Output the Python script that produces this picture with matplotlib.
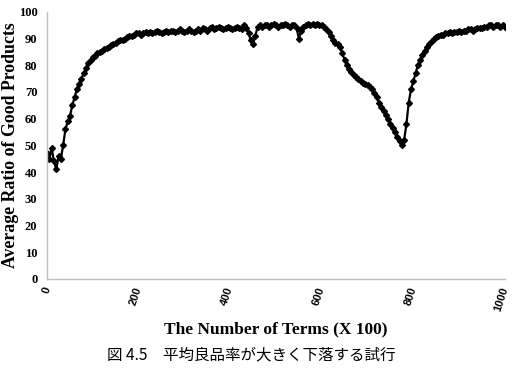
import numpy as np
import matplotlib
matplotlib.use('Agg')
from matplotlib import pyplot as plt

# Data (every 5 terms x100)
terms = list(range(0, 1001, 5))
ratio = [
    47, 45, 49, 44, 41, 46, 45, 50, 56, 59,
    61, 65, 68, 71, 73, 75, 77, 79, 81, 82,
    83, 83.5, 84.5, 85, 85.5, 86, 86.5, 87, 87.5, 88,
    88.5, 89, 89.5, 89.5, 90, 90.5, 91, 91, 91.5, 92,
    92, 91.5, 92, 92.5, 92, 92.5, 92, 92.5, 93, 92.5,
    92, 92.5, 93, 92.5, 93, 93, 92.5, 93, 93.5, 93,
    92.5, 93, 93.5, 93, 92.5, 93, 93.5, 93, 94, 93.5,
    93, 94, 94.5, 93.5, 94, 94.5, 94, 93.5, 94, 94.5,
    94, 93.5, 94, 94.5, 94, 93.5, 95, 94, 92, 89.5,
    88, 91, 94.5, 95, 94.5, 95, 95, 94.5, 95, 95.5,
    95, 94.5, 95, 95, 95.5, 95, 94.5, 95, 95, 94,
    90, 93, 94.5, 95, 95.5, 95, 95.5, 95, 95.5, 95,
    95, 94.5, 93.5, 92.5, 91, 89.5, 88.5, 88, 87, 84.5,
    82, 80, 78.5, 77.5, 76.5, 75.5, 75, 74, 73.5, 73,
    72.5, 72, 71, 69.5, 68, 66, 64.5, 63, 61.5, 60,
    58, 56.5, 55, 53, 51.5, 50, 52, 58, 66, 71,
    74, 77, 80, 82, 84, 85.5, 87, 88, 89, 90,
    90.5, 91, 91.5, 91.5, 92, 92, 92.5, 92, 92.5, 92.5,
    93, 92.5, 93, 93, 93.5, 93.5, 93, 93.5, 94, 94,
    94, 94.5, 94.5, 95, 95, 94.5, 95, 95, 94.5, 95,
    94.5,
]
xticks = [0, 200, 400, 600, 800, 1000]
yticks = list(range(0, 101, 10))

fig = plt.figure(figsize=(5.12, 3.70), dpi=100)
ax = fig.add_axes([0.092, 0.246, 0.894, 0.722])

ax.plot(terms, ratio, color='black', linewidth=1.6, marker='D', markersize=3)

ax.set_xlim(0, 1000)
ax.set_ylim(0, 100)
ax.set_xticks(xticks)
ax.set_yticks(yticks)
ax.tick_params(axis='y', length=0, pad=7)
ax.tick_params(axis='x', length=0, pad=6)

for lab in ax.get_yticklabels():
    lab.set_fontfamily('Liberation Serif')
    lab.set_fontweight('bold')
    lab.set_fontsize(9)
ax.set_xticklabels([str(t) for t in xticks], rotation=72, ha='right', va='center',
                   rotation_mode='anchor', fontfamily='Liberation Sans',
                   fontweight='bold', fontsize=8)

# ラベル位置は中心で指定
ax.set_ylabel('Average Ratio of Good Products', fontfamily='Liberation Serif',
              fontweight='bold', fontsize=12.8, va='center')
ax.yaxis.set_label_coords(-0.08, 0.5)
ax.set_xlabel('The Number of Terms (X 100)', fontfamily='Liberation Serif',
              fontweight='bold', fontsize=12.5, va='center')
ax.xaxis.set_label_coords(0.5, -0.19)

for s in ['top', 'right']:
    ax.spines[s].set_visible(False)
for s in ['left', 'bottom']:
    ax.spines[s].set_color('#bfbfbf')
    ax.spines[s].set_linewidth(1)

fig.text(0.491, 0.04, '図 4.5　平均良品率が大きく下落する試行',
         family=['Noto Sans CJK JP', 'DejaVu Sans'], fontsize=11.2,
         ha='center', va='center')

fig.savefig('out.png', dpi=100)
